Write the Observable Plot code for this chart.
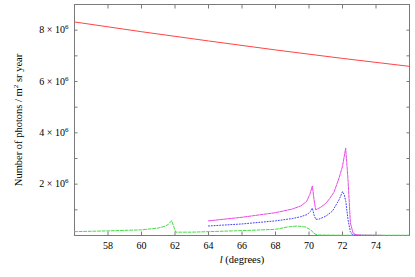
<!DOCTYPE html>
<html><head><meta charset="utf-8">
<script src="https://cdn.jsdelivr.net/npm/d3@7"></script>
<script src="https://cdn.jsdelivr.net/npm/@observablehq/plot@0.6"></script>
<style>
html,body{margin:0;padding:0;background:#fff;}
svg, svg text{font-family:"Liberation Serif","Times New Roman",serif !important;}
</style></head>
<body><div id="chart"></div>
<script>
const xTicks = [58,60,62,64,66,68,70,72,74];
const yTicks = [1e6,2e6,3e6,4e6,5e6,6e6,7e6,8e6];
const yLabelTicks = [2e6,4e6,6e6,8e6];

const redL = [56,60,64,68,72,76];
const redV = [8.32,7.94,7.58,7.23,6.90,6.59];

const greenL = [56,58,60,61,61.4,61.6,61.8,61.95,62.05,63,64,66,68,68.7,69.3,69.8,70.1,70.3,70.5,72,74,76];
const greenV = [0.15,0.18,0.22,0.29,0.36,0.43,0.58,0.30,0.13,0.13,0.15,0.19,0.24,0.33,0.37,0.33,0.22,0.08,0.02,0.01,0.01,0.01];

const blueL = [64,66,68,69,69.5,69.9,70.1,70.2,70.3,70.4,70.6,71,71.4,71.8,72.0,72.1,72.2,72.33,72.47,72.6,72.8,73.5,74];
const blueV = [0.37,0.45,0.57,0.66,0.73,0.82,0.95,1.07,0.80,0.63,0.64,0.75,0.95,1.40,1.71,1.60,1.32,0.61,0.15,0.03,0.01,0.005,0.005];

const magL = [64,66,68,69,69.5,69.85,70.05,70.2,70.3,70.4,70.7,71,71.25,71.5,71.8,72.0,72.19,72.33,72.47,72.63,72.8,73.2,74.4];
const magV = [0.57,0.71,0.89,1.03,1.15,1.32,1.60,1.93,1.40,1.00,1.10,1.25,1.45,1.70,2.25,2.70,3.40,2.17,0.49,0.10,0.03,0.01,0.005];

const toPts = (L, V) => L.map((l, i) => ({l, v: V[i] * 1e6}));

const fmtY = d => `${d/1e6} × 10^6`;

const plot = Plot.plot({
  width: 415, height: 277,
  marginLeft: 74, marginRight: 6, marginTop: 4, marginBottom: 42,
  style: 'font-family: "Liberation Serif", "Times New Roman", serif; font-size: 10px; background: #fff; color: #000;',
  x: {domain: [56, 76]},
  y: {domain: [0, 9e6]},
  marks: [
    Plot.frame({stroke: "#7a7a7a"}),
    Plot.axisX({ticks: xTicks, tickSize: -3.5, tickPadding: 10, tickFormat: d => `${d}`, stroke: "#7a7a7a", label: null, fontSize: 10}),
    Plot.axisX({anchor: "top", ticks: xTicks, tickSize: -3.5, fill: "none", stroke: "#7a7a7a", label: null}),
    Plot.axisY({ticks: yTicks, tickSize: -3.5, fill: "none", stroke: "#7a7a7a", label: null}),
    Plot.axisY({ticks: yLabelTicks, tickSize: 0, tickPadding: 6, tickFormat: fmtY, label: null, fontSize: 10}),
    Plot.axisY({anchor: "right", ticks: yTicks, tickSize: -3.5, fill: "none", stroke: "#7a7a7a", label: null}),
    Plot.line(toPts(redL, redV), {x: "l", y: "v", stroke: "#ff4444", strokeWidth: 1}),
    Plot.line(toPts(greenL, greenV), {x: "l", y: "v", stroke: "#44dd44", strokeWidth: 1, strokeDasharray: "3,1.6"}),
    Plot.line(toPts(blueL, blueV), {x: "l", y: "v", stroke: "#4040ff", strokeWidth: 1, strokeDasharray: "1,1.8"}),
    Plot.line(toPts(magL, magV), {x: "l", y: "v", stroke: "#e848e8", strokeWidth: 1, strokeDasharray: "3,1"}),
    Plot.text(["{l} (degrees)"], {frameAnchor: "bottom", dy: 24, lineAnchor: "middle", textAnchor: "middle", fontSize: 10.5}),
    Plot.text(["Number of photons / m^2 sr year"], {frameAnchor: "left", dx: -56, rotate: -90, lineAnchor: "middle", textAnchor: "middle", fontSize: 10.5})
  ]
});

// superscripts and italic variable, kept as real text
const esc = s => s.replace(/&/g, "&amp;").replace(/</g, "&lt;");
plot.querySelectorAll("text").forEach(t => {
  if (t.querySelector("text")) return;
  const s = t.textContent;
  if (!(s.includes("^") || s.includes("{l}"))) return;
  let html;
  const m = s.match(/^(.*)\^(\d)(.*)$/);
  if (m) {
    html = `<tspan>${esc(m[1])}</tspan><tspan dy="-4" font-size="7">${m[2]}</tspan>` +
           (m[3] ? `<tspan dy="4">${esc(m[3])}</tspan>` : "");
  } else {
    html = `<tspan font-style="italic">l</tspan><tspan>${esc(s.replace("{l}", ""))}</tspan>`;
  }
  const holder = (t.children.length === 1 && t.children[0].tagName === "tspan") ? t.children[0] : t;
  holder.innerHTML = html;
});

document.getElementById("chart").appendChild(plot);
</script>
</body></html>
